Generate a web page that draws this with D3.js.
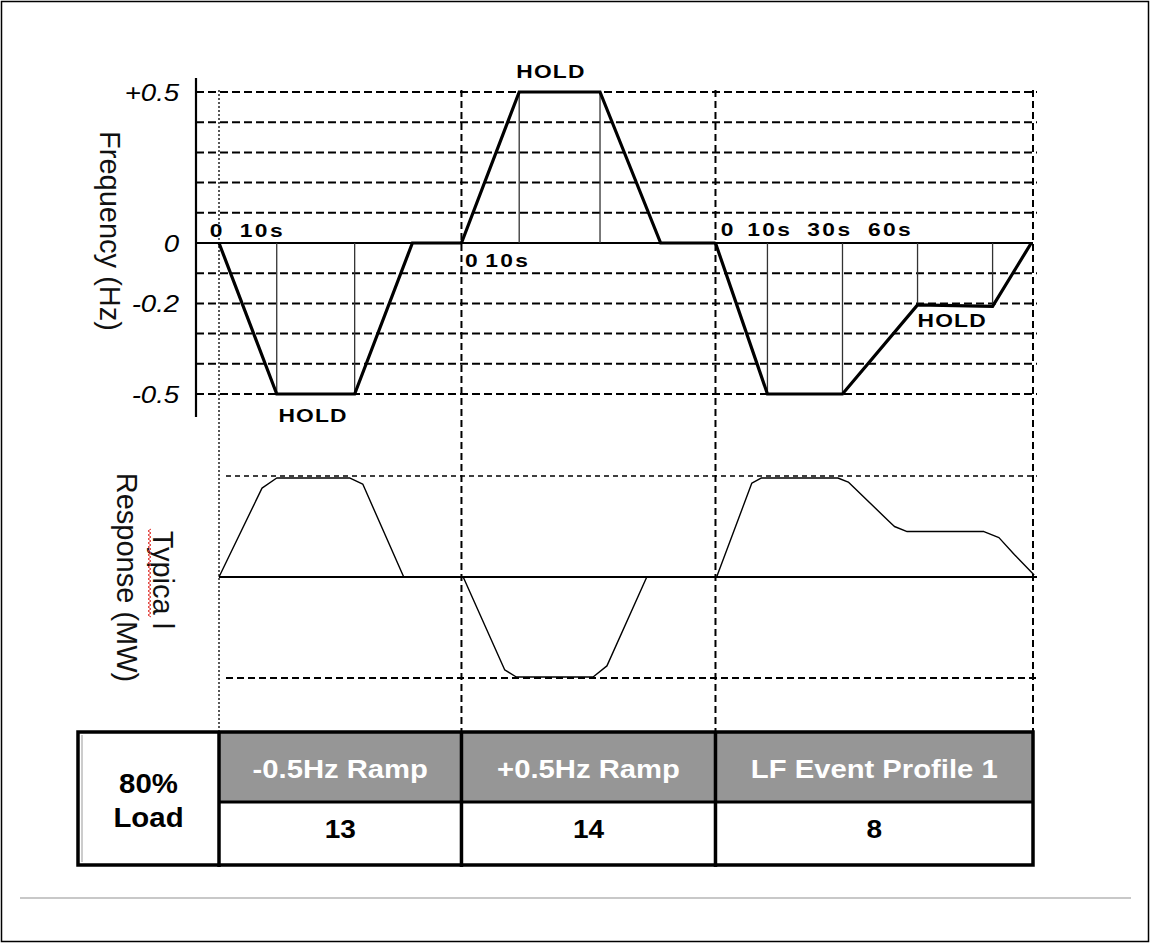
<!DOCTYPE html>
<html>
<head>
<meta charset="utf-8">
<script src="https://cdn.jsdelivr.net/npm/d3@7"></script>
<style>
  html, body { margin: 0; padding: 0; background: #fff; }
  svg { display: block; }
  text { font-family: "Liberation Sans", Arial, sans-serif; }
</style>
</head>
<body>
<svg id="chart" width="1151" height="944"></svg>
<script>
// ---------------- DATA ----------------
const sectionNames  = ["-0.5Hz Ramp", "+0.5Hz Ramp", "LF Event Profile 1"];
const sectionValues = ["13", "14", "8"];
const sectionStart  = [0, 42, 86];      // schematic seconds
const sectionEnd    = [42, 86, 141];
const loadLabel     = ["80%", "Load"];

// frequency profiles (Hz) per section, time in schematic seconds from section start
const freqT1 = [0, 10, 23.5, 33.5, 42],        freqV1 = [0, -0.5, -0.5, 0, 0];
const freqT2 = [0, 10, 24, 34.5, 44],          freqV2 = [0, 0.5, 0.5, 0, 0];
const freqT3 = [0, 9, 22, 35, 48, 54.7],       freqV3 = [0, -0.5, -0.5, -0.205, -0.21, 0];

// thin guide lines (time, frequency reached)
const guideT1 = [10, 23.5],        guideV1 = [-0.5, -0.5];
const guideT2 = [10, 24],          guideV2 = [0.5, 0.5];
const guideT3 = [9, 22, 35, 48],   guideV3 = [-0.5, -0.5, -0.205, -0.21];

// typical MW response (normalised, +1 = top dashed line, -1 = bottom dashed line)
const mwT1 = [0, 7.45, 10, 22.7, 24.9, 32];
const mwV1 = [0, 0.88, 0.98, 0.98, 0.92, 0];
const mwT2 = [0.3, 7.5, 9.5, 22.8, 25.2, 32.1];
const mwV2 = [0, -0.92, -0.99, -0.99, -0.88, 0];
const mwT3 = [0.2, 6.3, 7.9, 21.2, 23, 29.9, 31, 33.2, 46.5, 49.1, 51.8, 55.2];
const mwV3 = [0, 0.93, 0.98, 0.98, 0.94, 0.56, 0.5, 0.45, 0.45, 0.39, 0.22, 0.02];

// axis ticks and grid
const freqTicks      = [0.5, 0, -0.2, -0.5];
const freqTickLabels = ["+0.5", "0", "-0.2", "-0.5"];
const freqGrid       = [0.5, 0.4, 0.3, 0.2, 0.1, -0.1, -0.2, -0.3, -0.4, -0.5];
const mwGrid         = [1, -1];

// time labels (text, time from section start)
const timeLab1 = ["0", "10s"],               timeLabT1 = [-1.6, 3.6];
const timeLab2 = ["0", "10s"],               timeLabT2 = [0.6, 4.1];
const timeLab3 = ["0", "10s", "30s", "60s"], timeLabT3 = [0.9, 5.5, 15.9, 26.4];
// HOLD labels (section index, time from section start, frequency anchor)
const holdSec = [0, 1, 2], holdT = [16.3, 15.5, 41], holdF = [-0.5, 0.5, -0.2];

const freqTitle = "Frequency (Hz)";
const mwTitle   = ["Typica l", "Response (MW)"];

// ---------------- DRAW ----------------
const svg = d3.select("#chart");
const SX = 1.2; // horizontal glyph stretch seen in the reference

const x  = d3.scaleLinear().domain([0, 141]).range([219, 1033]);
const yF = d3.scaleLinear().domain([-0.5, 0.5]).range([394, 92]);
const yM = d3.scaleLinear().domain([-1, 1]).range([678, 476]);

// outer frame
svg.append("rect").attr("x", 1.5).attr("y", 1.5).attr("width", 1147).attr("height", 940)
  .attr("fill", "none").attr("stroke", "#000").attr("stroke-width", 1.5);

function stretchedText(g, px, py, s, opt) {
  return g.append("text")
    .attr("transform", `translate(${px},${py}) scale(${opt.sx || SX},1)`)
    .attr("text-anchor", opt.anchor || "start")
    .attr("font-size", opt.size)
    .attr("font-weight", opt.weight || "normal")
    .attr("font-style", opt.style || "normal")
    .attr("letter-spacing", opt.ls || 0)
    .attr("fill", opt.fill || "#000")
    .text(s);
}

// section vertical dashed lines
const secBounds = [sectionStart[0], sectionStart[1], sectionStart[2], sectionEnd[2]];
secBounds.forEach((b, i) => {
  svg.append("line")
    .attr("x1", x(b)).attr("x2", x(b)).attr("y1", 90).attr("y2", 731)
    .attr("stroke", i === 0 ? "#222" : "#000")
    .attr("stroke-width", i === 0 ? 1.5 : 2)
    .attr("stroke-dasharray", i === 0 ? "2,2" : "7,4");
});

// frequency grid
svg.append("g").selectAll("line").data(freqGrid).join("line")
  .attr("x1", 196).attr("x2", 1037)
  .attr("y1", d => yF(d)).attr("y2", d => yF(d))
  .attr("stroke", "#000").attr("stroke-width", 2).attr("stroke-dasharray", "8,4");

// zero line top
svg.append("line").attr("x1", 196).attr("x2", 1033).attr("y1", yF(0)).attr("y2", yF(0))
  .attr("stroke", "#000").attr("stroke-width", 2);

// y axis
const yAxis = d3.axisLeft(yF).tickValues(freqTicks)
  .tickFormat((d, i) => freqTickLabels[i]).tickSize(0).tickPadding(14);
const ag = svg.append("g").attr("transform", "translate(196,0)").call(yAxis);
ag.select(".domain").remove();
ag.selectAll("text")
  .attr("font-family", '"Liberation Sans", Arial, sans-serif')
  .attr("font-size", 23).attr("font-style", "italic").attr("fill", "#000")
  .attr("dy", "0.35em")
  .attr("transform", `scale(${SX},1)`);
svg.append("line").attr("x1", 196).attr("x2", 196).attr("y1", 78).attr("y2", 417)
  .attr("stroke", "#000").attr("stroke-width", 2.2);

const secs = [
  {s: sectionStart[0], ft: freqT1, fv: freqV1, gt: guideT1, gv: guideV1, mt: mwT1, mv: mwV1, lt: timeLabT1, lb: timeLab1},
  {s: sectionStart[1], ft: freqT2, fv: freqV2, gt: guideT2, gv: guideV2, mt: mwT2, mv: mwV2, lt: timeLabT2, lb: timeLab2},
  {s: sectionStart[2], ft: freqT3, fv: freqV3, gt: guideT3, gv: guideV3, mt: mwT3, mv: mwV3, lt: timeLabT3, lb: timeLab3}
];
// thin guide lines
secs.forEach(sec => {
  sec.gt.forEach((t, i) => {
    svg.append("line").attr("x1", x(sec.s + t)).attr("x2", x(sec.s + t))
      .attr("y1", yF(0)).attr("y2", yF(sec.gv[i]))
      .attr("stroke", "#333").attr("stroke-width", 1.3);
  });
});

// frequency profile
const fLine = d3.line().x(d => x(d[0])).y(d => yF(d[1]));
secs.forEach(sec => {
  const pts = sec.ft.map((t, i) => [sec.s + t, sec.fv[i]]);
  svg.append("path").attr("d", fLine(pts)).attr("fill", "none")
    .attr("stroke", "#000").attr("stroke-width", 3.2).attr("stroke-linejoin", "miter");
});

// time labels
const labelY = [yF(0) - 6, yF(0) + 24, yF(0) - 7];
secs.forEach((sec, k) => {
  sec.lb.forEach((s, i) => {
    stretchedText(svg, x(sec.s + sec.lt[i]), labelY[k], s,
      {size: 19, weight: "bold", ls: 2});
  });
});

// HOLD labels
const holdDy = [28, -14, 24];
holdSec.forEach((si, i) => {
  stretchedText(svg, x(sectionStart[si] + holdT[i]), yF(holdF[i]) + holdDy[i], "HOLD",
    {size: 19, weight: "bold", ls: 1, anchor: "middle"});
});

// axis title (frequency)
svg.append("text").attr("transform", `translate(100,231) rotate(90)`)
  .attr("text-anchor", "middle").attr("font-size", 29).attr("fill", "#111")
  .text(freqTitle);

// MW panel
svg.append("g").selectAll("line").data(mwGrid).join("line")
  .attr("x1", 226).attr("x2", 1037)
  .attr("y1", d => yM(d)).attr("y2", d => yM(d))
  .attr("stroke", "#000").attr("stroke-width", d => d > 0 ? 1.3 : 2)
  .attr("stroke-dasharray", d => d > 0 ? "5,4" : "7,4");
svg.append("line").attr("x1", x(0)).attr("x2", 1037).attr("y1", yM(0)).attr("y2", yM(0))
  .attr("stroke", "#000").attr("stroke-width", 2);

const mLine = d3.line().x(d => x(d[0])).y(d => yM(d[1]));
secs.forEach(sec => {
  const pts = sec.mt.map((t, i) => [sec.s + t, sec.mv[i]]);
  svg.append("path").attr("d", mLine(pts)).attr("fill", "none")
    .attr("stroke", "#000").attr("stroke-width", 1.4).attr("stroke-linejoin", "round");
});

// MW axis title (two lines, rotated)
const mwBase = [153, 117];
mwTitle.forEach((s, i) => {
  svg.append("text").attr("transform", `translate(${mwBase[i]},${i === 0 ? 580 : 577.5}) rotate(90)`)
    .attr("text-anchor", "middle").attr("font-size", 29).attr("fill", "#111").text(s);
});
// spell-check squiggle under "Typica"
const sq = [];
for (let yy = 529, k = 0; yy <= 617; yy += 2, k++) sq.push([k % 2 ? 148 : 151, yy]);
svg.append("path").attr("d", d3.line()(sq)).attr("fill", "none")
  .attr("stroke", "#e0302a").attr("stroke-width", 1);

// ---------------- TABLE ----------------
const colX = [78, x(sectionStart[0]), x(sectionStart[1]), x(sectionStart[2]), x(sectionEnd[2])];
const rowY = [732, 802, 865];
const tg = svg.append("g");
sectionNames.forEach((n, i) => {
  tg.append("rect").attr("x", colX[i + 1]).attr("y", rowY[0])
    .attr("width", colX[i + 2] - colX[i + 1]).attr("height", rowY[1] - rowY[0])
    .attr("fill", "#969696");
});
tg.append("rect").attr("x", colX[0]).attr("y", rowY[0])
  .attr("width", colX[4] - colX[0]).attr("height", rowY[2] - rowY[0])
  .attr("fill", "none").attr("stroke", "#000").attr("stroke-width", 3.5);
colX.slice(1, 4).forEach(cx => {
  tg.append("line").attr("x1", cx).attr("x2", cx).attr("y1", rowY[0]).attr("y2", rowY[2] + 2)
    .attr("stroke", "#000").attr("stroke-width", 3.5);
});
tg.append("line").attr("x1", colX[1]).attr("x2", colX[4]).attr("y1", rowY[1]).attr("y2", rowY[1])
  .attr("stroke", "#000").attr("stroke-width", 3);
tg.append("line").attr("x1", colX[0] + 4).attr("x2", colX[0] + 4).attr("y1", rowY[0] + 3).attr("y2", rowY[2] - 3)
  .attr("stroke", "#999").attr("stroke-width", 1);

sectionNames.forEach((n, i) => {
  const cx = (colX[i + 1] + colX[i + 2]) / 2;
  stretchedText(tg, cx, 778, n, {size: 25, weight: "bold", anchor: "middle", fill: "#fff", sx: 1.17});
  stretchedText(tg, cx, 838, sectionValues[i], {size: 25, weight: "bold", anchor: "middle", sx: 1.12});
});
loadLabel.forEach((s, i) => {
  stretchedText(tg, (colX[0] + colX[1]) / 2, i === 0 ? 793 : 827, s,
    {size: 28, weight: "bold", anchor: "middle", sx: 1.05});
});

// bottom separator
svg.append("line").attr("x1", 20).attr("x2", 1131).attr("y1", 898).attr("y2", 898)
  .attr("stroke", "#c8c8c8").attr("stroke-width", 2);
</script>
</body>
</html>
